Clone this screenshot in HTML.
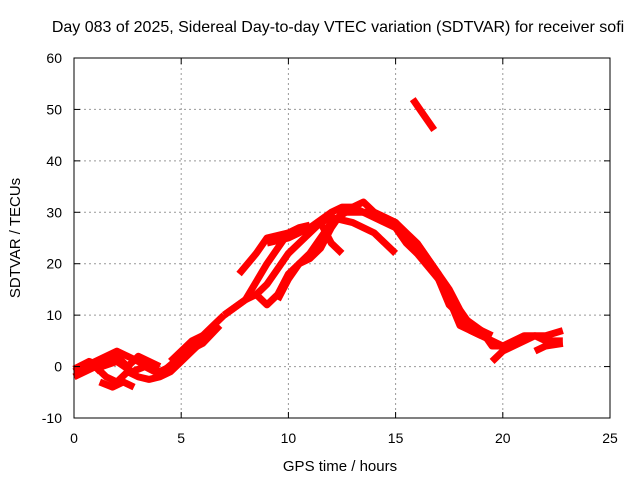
<!DOCTYPE html>
<html><head><meta charset="utf-8"><style>
body{margin:0;background:#fff;}
svg text{font-family:"Liberation Sans",sans-serif;font-size:14px;fill:#000;}
</style></head><body>
<svg width="640" height="480" viewBox="0 0 640 480">
<rect x="0" y="0" width="640" height="480" fill="#fff"/>
<g id="grid"></g>
<g id="series"></g>
<rect x="74" y="58" width="536" height="360" fill="none" stroke="#000" stroke-width="1"/>
<g id="ticks"></g>
<text x="338" y="32" text-anchor="middle" style="font-size:16px">Day 083 of 2025, Sidereal Day-to-day VTEC variation (SDTVAR) for receiver sofi</text>
<text x="340" y="471" text-anchor="middle" style="font-size:15px">GPS time / hours</text>
<text x="20" y="238" text-anchor="middle" style="font-size:15px" transform="rotate(-90 20 238)">SDTVAR / TECUs</text>
</svg>
<script>
const xTicks=[0,5,10,15,20,25];
const yTicks=[-10,0,10,20,30,40,50,60];
const track1=[[0,-1],[0.5,0],[1,1],[1.5,2],[2,3],[2.5,2],[3,1],[3.5,0],[4,-1],[4.5,0],[5,2]];
const track2=[[0,-2],[0.5,-1],[1,0],[1.5,-2],[2,-3],[2.5,-1],[3,-2],[3.5,-2.5],[4,-2],[4.5,-1],[5,1],[5.5,3],[6,5]];
const track3=[[1,-1],[1.5,1],[2,2],[2.5,0],[3,2],[3.5,1],[4,0]];
const track4=[[4.5,1],[5,3],[5.5,5],[6,6],[6.5,8],[7,10]];
const track5=[[5,2],[5.5,4],[6,6],[6.5,7]];
const track6=[[7.7,18],[8.5,22],[9,25],[10,26],[10.5,27],[11,27.5]];
const track7=[[7,10],[8,13],[9,20],[9.5,23],[10,26],[11,27],[12,30],[12.5,31],[13,31],[13.5,30],[14,29],[15,27],[15.5,24],[16,22],[17,17],[17.5,13],[18,8],[19,6],[20,4],[21,6],[22,6],[22.8,7]];
const track8=[[7,10],[8,13],[8.5,14],[9,12],[9.5,14],[10,18],[10.5,20],[11,21],[11.5,23],[12,27],[12.5,30],[13,30],[14,30],[15,28],[15.5,26],[16,24],[17,18],[17.5,14],[18,9],[18.5,7],[19,6]];
const track9=[[8.5,14],[9,16],[9.5,19],[10,22],[10.5,24],[11,26],[11.5,28],[12,24],[12.5,22]];
const track10=[[9,24],[10,25],[11,27],[12,29],[13,28],[14,26],[14.5,24],[15,22]];
const track11=[[9.5,13],[10,17],[10.5,20],[11,22],[11.5,25],[12,28],[13,31],[13.5,32],[14,30],[15,28],[16,23],[16.5,20],[17,17],[17.5,12],[18,10],[19,7],[19.5,4],[20,4]];
const track12=[[19.5,1],[20,3],[20.5,4],[21,5],[21.5,6],[22,5],[22.8,5]];
const track13=[[21.5,3],[22,4],[22.8,4.5]];
const track14=[[15.8,52],[16.3,49],[16.8,46]];
const track15=[[0,-0.5],[0.7,1],[1.3,0],[2,1],[2.7,-1],[3.3,0],[4,-1.5],[4.7,1],[5.3,3],[6,4.5],[6.8,8]];
const track16=[[1.2,-3],[1.8,-4],[2.3,-3],[2.8,-4]];
const track17=[[16,24],[16.5,21],[17,18],[17.5,15],[18,11],[18.5,8],[19,7],[19.5,6]];
const tracks=[track1,track2,track3,track4,track5,track6,track7,track8,track9,track10,track11,track12,track13,track14,track15,track16,track17];
const NS='http://www.w3.org/2000/svg';
const X=h=>74+h*(536/25);
const Y=v=>58+(60-v)*(360/70);
const grid=document.getElementById('grid'),ticks=document.getElementById('ticks'),series=document.getElementById('series');
function mk(tag,attrs,parent){const e=document.createElementNS(NS,tag);for(const k in attrs)e.setAttribute(k,attrs[k]);parent.appendChild(e);return e;}
xTicks.forEach(t=>{
  const x=X(t);
  if(t>0&&t<25){const g=mk('line',{x1:x,x2:x,y1:58,y2:418,stroke:'#999','stroke-dasharray':'2,3'},grid);
  
  }
  mk('line',{x1:x,x2:x,y1:418,y2:412,stroke:'#000'},ticks);
  mk('line',{x1:x,x2:x,y1:58,y2:64,stroke:'#000'},ticks);
  const tx=mk('text',{x:x,y:443,'text-anchor':'middle'},ticks);tx.textContent=t;
  
  
});
yTicks.forEach(t=>{
  const y=Y(t);
  if(t>-10&&t<60){const g=mk('line',{x1:74,x2:610,y1:y,y2:y,stroke:'#999','stroke-dasharray':'2,3'},grid);
  
  }
  mk('line',{x1:74,x2:80,y1:y,y2:y,stroke:'#000'},ticks);
  mk('line',{x1:610,x2:604,y1:y,y2:y,stroke:'#000'},ticks);
  const tx=mk('text',{x:62,y:y+5,'text-anchor':'end'},ticks);tx.textContent=t;
  
  
});
tracks.forEach((tr,i)=>{
  const p=mk('polyline',{points:tr.map(d=>X(d[0])+','+Y(d[1])).join(' '),fill:'none',stroke:'#f00','stroke-width':7,'stroke-linejoin':'round','stroke-linecap':'butt'},series);
  
  
});
</script>
</body></html>
